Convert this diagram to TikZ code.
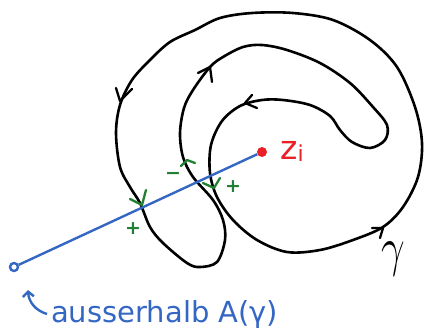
\documentclass[tikz,border=0pt]{standalone}
\usepackage{fix-cm}
\usepackage{fontspec}
\setmainfont{DejaVu Sans}
\usetikzlibrary{arrows.meta}
\definecolor{penblue}{RGB}{52,102,196}
\definecolor{penred}{RGB}{232,32,40}
\definecolor{pengreen}{RGB}{34,128,52}
\tikzset{
  curve/.style={line width=2.6pt, line join=round},
  tick/.style={line width=2.3pt, line cap=round, line join=round},
  gtick/.style={tick, pengreen},
  sign/.style={text=pengreen, font=\bfseries\fontsize{19}{19}\selectfont, inner sep=0pt},
  ray/.style={penblue, line width=2.4pt},
}

\begin{document}
\begin{tikzpicture}[x=1pt, y=-1pt]
  \useasboundingbox (0,0) rectangle (425,335);
  % the closed curve gamma
  \draw[curve] plot[smooth cycle, tension=0.55] coordinates {
    (252,13) (220,18) (195,30) (170,42) (150,60) (132,80) (120,105)
    (116,133) (120,167) (130,187) (140,203) (150,227) (163,243) (187,263)
    (200,267) (217,262) (225,240) (223,220) (213,200) (193,177) (183,157)
    (180,133) (184,108) (193,90) (210,67) (223,57) (243,47) (262,45)
    (287,50) (320,63) (350,83) (373,107) (387,125) (385,140) (370,148)
    (352,142) (340,130) (330,116) (310,105) (283,100) (262,100) (240,106)
    (222,121) (211,145) (210,173) (217,197) (233,220) (257,240) (287,252)
    (320,250) (353,240) (383,227) (403,207) (418,177) (422,143) (415,107)
    (397,67) (370,40) (333,20) (293,13)};
  % orientation of gamma
  \draw[tick] (116,88) -- (120,101) -- (132,89);
  \draw[tick] (198,73) -- (210,67) -- (212,82);
  \draw[tick] (252,95) -- (245,103) -- (257,108);
  \draw[tick] (372,228) -- (383,228) -- (380,238);
  \node (gam) at (393,259) {\scalebox{1}[1.3]{\fontsize{42}{42}\selectfont$\gamma$}};
  % point z_i and ray to the outside
  \node[circle, fill=penred, inner sep=0pt, minimum size=10pt] (zi) at (262,152) {};
  \node[text=penred, anchor=west, inner sep=0pt] (zlab) at (280,151)
    {\fontsize{33}{33}\selectfont z\raisebox{-2pt}{\fontsize{22}{22}\selectfont i}};
  \node[circle, draw=penblue, line width=2.4pt, inner sep=0pt, minimum size=8pt] (out) at (14,267) {};
  \draw[ray] (out) -- (zi);
  % crossing signs
  \draw[gtick] (130,199) -- (142,205) -- (146,190);
  \node[sign] (p1) at (133,229) {+};
  \draw[gtick] (181,166) -- (187,160) -- (195,163);
  \node[sign] (m1) at (173,176) {−};
  \draw[gtick] (203,183) -- (214,188) -- (220,178);
  \node[sign] (p2) at (233,187) {+};
  % note
  \node[text=penblue, anchor=base west, inner sep=0pt,
        font=\fontsize{29}{29}\selectfont] (note) at (51,322) {ausserhalb A(γ)};
  \coordinate (hooktip) at (28,290);
  \draw[ray, -{Straight Barb[length=5pt, width=11pt]}]
    ([xshift=-4pt]note.west) to[bend left=35] (hooktip);
\end{tikzpicture}
\end{document}
